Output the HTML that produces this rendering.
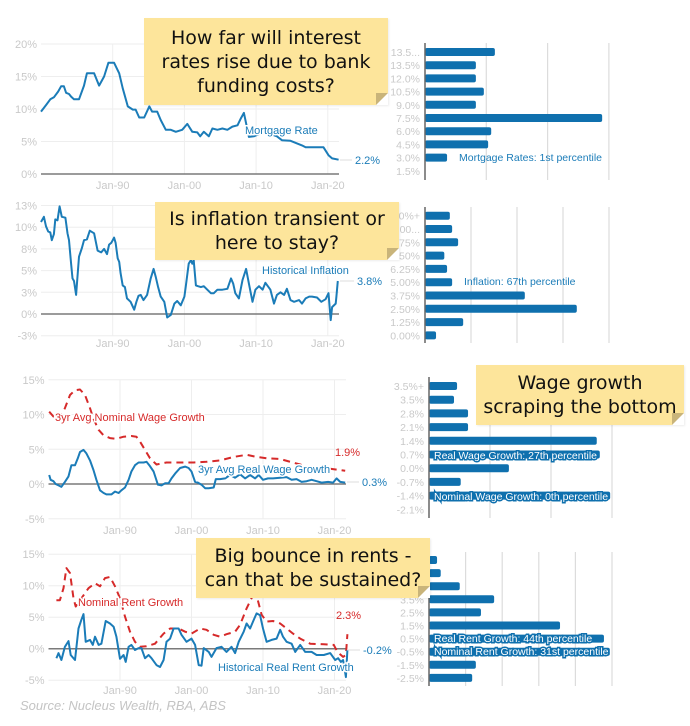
<!DOCTYPE html>
<html><head><meta charset="utf-8">
<style>
html,body{margin:0;padding:0;background:#fff;}
#wrap{position:relative;width:690px;height:726px;overflow:hidden;font-family:"Liberation Sans",sans-serif;}
svg{position:absolute;left:0;top:0;}
.note{position:absolute;background:#fde59b;color:#111;font-family:"Comic Sans MS","DejaVu Sans",cursive;font-size:19px;line-height:24px;text-align:center;box-shadow:1px 1px 2px rgba(0,0,0,0.08);display:flex;flex-direction:column;justify-content:center;}
.note:after{content:"";position:absolute;right:0;bottom:0;width:0;height:0;border-style:solid;border-width:0 0 12px 12px;border-color:transparent transparent #fff #c9b47a;}
</style></head>
<body>
<div id="wrap">
<svg id="chart" width="690" height="726" viewBox="0 0 690 726"></svg>
<div class="note" style="left:144px;top:18px;width:244px;height:87px;">How far will interest<br>rates rise due to bank<br>funding costs?</div>
<div class="note" style="left:155px;top:202px;width:244px;height:58px;">Is inflation transient or<br>here to stay?</div>
<div class="note" style="left:476px;top:365px;width:208px;height:60px;">Wage growth<br>scraping the bottom</div>
<div class="note" style="left:196px;top:538px;width:234px;height:60px;">Big bounce in rents -<br>can that be sustained?</div>
</div>
<script>
// ---- data ----
const mortYears=[1980.0,1980.7,1981.3,1981.8,1982.4,1982.8,1983.2,1983.5,1983.9,1984.2,1984.6,1985.3,1986.0,1986.4,1987.4,1988.1,1988.8,1989.4,1990.2,1990.9,1991.4,1992.1,1992.8,1993.2,1993.7,1994.4,1995.1,1995.5,1996.2,1996.7,1997.4,1998.1,1998.8,1999.7,2000.4,2001.1,2001.8,2002.2,2002.7,2003.4,2003.9,2004.6,2005.3,2006.0,2006.7,2007.4,2007.9,2008.3,2008.6,2009.0,2009.7,2011.1,2012.9,2013.6,2014.8,2015.7,2016.4,2016.9,2019.4,2020.1,2020.6,2021.5];
const mortValues=[9.6,10.6,11.5,11.8,12.7,13.5,13.5,12.5,12.3,11.9,11.5,11.5,13.6,15.5,15.5,13.6,15.0,17.1,17.1,15.5,13.2,10.4,9.9,9.9,8.7,8.7,10.4,9.6,9.6,8.3,6.8,6.8,6.5,6.8,7.7,6.5,6.4,5.8,6.5,5.8,7.0,6.8,7.0,6.8,7.3,7.5,8.6,9.4,7.8,5.7,5.8,6.5,5.8,5.2,5.1,4.7,4.4,4.1,4.1,2.9,2.4,2.2];
const inflYears=[1980.0,1980.4,1980.7,1981.0,1981.3,1981.5,1981.8,1982.0,1982.3,1982.6,1982.9,1983.4,1983.7,1983.9,1984.2,1984.4,1984.6,1984.9,1985.3,1985.7,1986.0,1986.4,1986.8,1987.4,1987.9,1988.4,1988.8,1989.2,1989.5,1989.8,1990.2,1990.4,1990.7,1990.9,1991.1,1991.4,1991.7,1992.0,1992.5,1993.0,1993.3,1993.6,1993.9,1994.3,1994.8,1995.3,1995.7,1996.0,1996.3,1996.7,1997.2,1997.6,1998.1,1998.6,1999.0,1999.5,2000.0,2000.2,2000.6,2000.9,2001.1,2001.3,2001.6,2001.9,2002.3,2002.7,2003.2,2003.7,2004.1,2004.6,2005.3,2006.0,2006.5,2006.8,2007.1,2007.6,2008.1,2008.6,2009.0,2009.5,2009.9,2010.4,2010.9,2011.3,2012.0,2012.5,2012.9,2013.4,2013.9,2014.3,2014.8,2015.3,2016.0,2016.4,2016.9,2017.4,2017.8,2018.5,2019.1,2019.7,2020.1,2020.4,2020.6,2021.1,2021.2,2021.4];
const inflValues=[10.6,11.2,10.1,9.5,9.4,8.5,9.2,10.9,10.8,12.4,11.2,11.1,9.3,8.5,5.8,4.1,3.8,2.2,6.6,7.6,8.5,8.6,9.6,9.3,7.3,7.1,7.5,6.9,8.0,8.2,8.8,8.2,6.4,6.0,4.7,3.3,3.1,1.8,1.4,0.5,1.4,2.1,2.2,1.6,2.2,4.1,5.2,4.3,3.2,2.0,1.4,-0.4,-0.1,1.2,1.5,1.0,2.0,3.2,5.8,6.2,5.8,6.2,3.3,3.2,3.1,3.2,2.8,2.4,2.4,2.8,2.8,2.9,4.1,3.5,2.4,1.8,3.9,5.2,3.5,1.4,2.8,3.2,2.8,3.6,2.8,1.2,2.2,2.5,2.2,2.9,1.6,1.4,1.6,1.2,1.8,2.0,2.0,1.9,1.4,1.7,2.4,-0.7,0.8,1.2,2.0,3.8];
const realWageYears=[1980.1,1980.3,1980.7,1981.0,1981.4,1981.8,1982.3,1982.8,1983.2,1983.7,1984.1,1984.4,1984.9,1985.3,1985.8,1986.3,1986.7,1987.2,1987.7,1988.1,1988.8,1989.3,1989.8,1990.2,1990.7,1991.2,1991.6,1992.1,1992.6,1993.3,1993.7,1994.1,1994.7,1995.3,1995.8,1996.3,1996.8,1997.2,1997.7,1998.4,1999.1,1999.6,2000.0,2000.5,2000.9,2001.4,2001.9,2002.4,2003.1,2003.4,2004.0,2004.7,2005.4,2006.1,2006.8,2007.5,2008.2,2008.9,2009.4,2010.0,2010.7,2011.4,2012.4,2013.3,2014.0,2014.7,2015.4,2016.1,2016.8,2017.5,2018.2,2019.1,2019.8,2020.3,2020.8,2021.5];
const realWageValues=[1.3,0.6,0.4,0,-0.2,-0.4,0.3,1.1,2.7,2.7,3.7,4.6,4.9,4.4,3.4,2.0,0.6,-0.9,-1.3,-1.5,-1.5,-1.1,-1.3,-0.9,-0.5,0.6,1.8,2.7,3.1,3.1,3.2,2.7,1.8,-0.1,-0.2,0.1,0.1,0.8,1.5,2.3,2.5,2.3,1.8,0.3,0.2,-0.1,-0.6,-0.6,-0.5,0.7,0.7,0.8,1.3,0.9,1.4,0.8,1.3,0.8,1.3,0.6,0.8,0.8,0.9,1.0,0.6,0.7,0.3,0.4,0.6,0.4,0.2,0.3,0.2,0.8,0.3,0.2];
const nomWageYears=[1980.1,1980.7,1981.4,1982.3,1983.0,1983.7,1984.4,1985.1,1985.8,1986.3,1987.0,1987.7,1988.6,1989.5,1990.5,1991.6,1992.3,1992.8,1993.5,1994.2,1995.1,1996.5,1998.4,2000.3,2002.1,2004.0,2005.9,2007.7,2009.1,2010.5,2012.4,2013.8,2015.2,2016.6,2018.0,2019.4,2021.5];
const nomWageValues=[10.4,9.7,9.3,10.9,12.8,13.5,13.6,12.8,10.9,9.4,7.8,7.0,6.6,6.5,6.8,6.9,6.8,6.1,4.9,3.7,2.8,3.1,3.1,3.1,3.2,3.4,3.9,4.2,3.9,3.7,3.6,3.2,2.8,2.3,2.0,2.2,1.9];
const realRentYears=[1981.1,1981.4,1981.8,1982.3,1982.8,1983.1,1983.7,1984.2,1984.6,1984.9,1985.2,1985.8,1986.2,1986.5,1987.0,1987.4,1988.0,1988.6,1989.1,1989.5,1990.0,1990.5,1990.8,1991.2,1991.6,1992.1,1992.6,1993.0,1993.5,1994.0,1994.4,1995.1,1995.6,1996.1,1996.5,1997.0,1997.5,1998.2,1998.6,1999.3,2000.0,2000.5,2001.0,2001.4,2001.7,2002.4,2002.8,2003.5,2004.2,2004.9,2005.6,2006.1,2006.6,2007.3,2007.7,2008.2,2008.6,2009.1,2009.6,2010.0,2010.5,2011.2,2011.9,2012.4,2012.8,2013.3,2014.0,2014.5,2015.2,2015.9,2016.8,2017.5,2018.5,2019.4,2020.1,2020.5,2020.9,2021.2,2021.6,2021.8];
const realRentValues=[-1.5,-0.7,-1.8,0.3,1.2,-1.0,-1.8,3.2,4.6,5.5,1.1,1.4,0.6,1.9,0.6,0.8,4.4,4.0,3.5,1.9,-1.6,-1.0,-2.1,0.3,0.6,-0.2,0.1,0.1,-1.5,-1.0,-1.5,-2.6,-2.9,-1.8,1.1,1.6,3.2,3.2,2.2,1.1,1.6,0.6,-2.6,-2.7,0.1,-0.5,-1.3,0.1,0.3,-0.5,0.3,-0.7,1.1,2.7,4.0,3.2,4.3,5.6,5.3,3.2,1.1,1.4,1.6,3.0,1.9,1.1,0.8,-0.5,0.6,-0.5,-0.5,-1.0,-1.0,-0.7,-1.8,-1.5,-2.1,-1.8,-4.5,-0.2];
const nomRentYears=[1981.1,1981.6,1982.1,1982.5,1983.0,1983.5,1983.8,1984.6,1985.6,1986.5,1987.2,1987.9,1988.6,1989.3,1990.0,1990.7,1991.4,1992.1,1992.8,1993.7,1994.9,1996.1,1997.0,1998.2,1999.1,2000.0,2001.2,2002.1,2003.1,2004.0,2004.9,2006.1,2006.8,2007.7,2008.6,2009.2,2009.8,2010.5,2011.4,2012.4,2013.3,2014.2,2015.2,2016.6,2018.5,2019.9,2020.4,2021.2,2021.6,2021.8];
const nomRentValues=[7.7,7.7,9.6,12.8,12.0,8.0,6.7,8.0,9.6,10.4,9.9,11.2,11.4,9.9,8.0,5.1,2.7,1.1,0.3,0.4,0.8,2.4,3.2,3.2,2.7,2.4,3.2,3.0,2.2,1.9,2.3,2.7,3.8,6.4,8.5,8.0,5.4,4.3,4.4,4.0,3.2,2.4,1.6,0.8,0.7,0.6,-0.5,-1.3,-1.0,2.3];
const xTickYears=[1990,2000,2010,2020];
const xTickLabels=["Jan-90","Jan-00","Jan-10","Jan-20"];
const mortTicks=[0,5,10,15,20];
const mortTickLabels=["0%","5%","10%","15%","20%"];
const inflTicks=[-2.5,0,2.5,5,7.5,10,12.5];
const inflTickLabels=["-3%","0%","3%","5%","8%","10%","13%"];
const wageTicks=[-5,0,5,10,15];
const wageTickLabels=["-5%","0%","5%","10%","15%"];
const rentTicks=[-5,0,5,10,15];
const rentTickLabels=["-5%","0%","5%","10%","15%"];
// bar charts
const mortBarCats=["13.5...","13.5%","12.0%","10.5%","9.0%","7.5%","6.0%","4.5%","3.0%","1.5%"];
const mortBarValues=[11.4,8.3,8.3,9.6,8.3,28.9,10.8,10.3,3.6,0];
const inflBarCats=["10.00%+","10.00...","8.75%","7.50%","6.25%","5.00%","3.75%","2.50%","1.25%","0.00%"];
const inflBarValues=[5.4,5.9,7.2,4.2,4.8,5.9,21.7,33.0,8.3,2.4];
const wageBarCats=["3.5%+","3.5%","2.8%","2.1%","1.4%","0.7%","0.0%","-0.7%","-1.4%","-2.1%"];
const wageBarValues=[4.6,4.1,6.4,6.4,27.5,28.0,13.1,5.2,29.7,0];
const rentBarCats=["6.5%+","5.5%","4.5%","3.5%","2.5%","1.5%","0.5%","-0.5%","-1.5%","-2.5%"];
const rentBarValues=[1.1,1.6,4.2,8.9,7.1,17.9,23.9,24.7,6.4,5.9];

// ---- drawing ----
const svg=document.getElementById('chart');
const NS='http://www.w3.org/2000/svg';
const BLUE='#1b7cb8', RED='#d62a2a', BAR='#0f70ae', TICK='#c9c9c9';
function mk(tag,attrs,parent){const e=document.createElementNS(NS,tag);for(const k in attrs)e.setAttribute(k,attrs[k]);(parent||svg).appendChild(e);return e;}
function txt(s,x,y,attrs,parent){const t=mk('text',Object.assign({x:x,y:y,'font-size':11,'font-family':'Liberation Sans, sans-serif'},attrs),parent);t.textContent=s;return t;}

function lineChart(cfg){
  const g=mk('g',{});
  
  
  const xs=y=>cfg.x0+(y-1980)*cfg.pxYear;
  const ys=v=>cfg.zeroY-v*cfg.pxVal;
  cfg.ticks.forEach((t,i)=>{
    const l=mk('line',{x1:cfg.x0,x2:cfg.x1,y1:ys(t),y2:ys(t),stroke:'#eeeeee','stroke-width':1},g);
    
    
    const tl=txt(cfg.tickLabels[i],cfg.x0-4,ys(t)+4,{'text-anchor':'end',fill:TICK,'font-size':11},g);
    
    
  });
  xTickYears.forEach((yr,i)=>{
    const l=mk('line',{x1:xs(yr),x2:xs(yr),y1:ys(cfg.ticks[cfg.ticks.length-1]),y2:ys(cfg.ticks[0]),stroke:'#eeeeee','stroke-width':1},g);
    
    
    const tl=txt(xTickLabels[i],xs(yr),cfg.xLabelY,{'text-anchor':'middle',fill:TICK,'font-size':11},g);
    
    
  });
  const z=mk('line',{x1:cfg.x0,x2:cfg.x1,y1:cfg.zeroY,y2:cfg.zeroY,stroke:'#7a7a7a','stroke-width':1.5},g);
  
  
  cfg.series.forEach(s=>{
    const d=s.years.map((y,i)=>(i?'L':'M')+xs(y).toFixed(1)+','+ys(s.values[i]).toFixed(1)).join('');
    const p=mk('path',{d:d,fill:'none',stroke:s.color,'stroke-width':2,'stroke-linejoin':'round','stroke-dasharray':s.dash||'none'},g);
    
    
  });
  cfg.labels.forEach(lb=>{
    const t=txt(lb.text,lb.x,lb.y,{fill:lb.color,'font-size':11,stroke:'#fff','stroke-width':lb.halo?3:0,'paint-order':'stroke'},g);
    
    
    if(lb.lead){const l=mk('line',{x1:lb.lead[0],x2:lb.lead[1],y1:lb.lead[2],y2:lb.lead[2],stroke:'#dddddd','stroke-width':1},g);
      
      }
  });
}

function barChart(cfg){
  const g=mk('g',{});
  
  
  const xs=v=>cfg.axisX+v*cfg.pxUnit;
  const ys=i=>cfg.y0+i*cfg.step;
  cfg.grid.forEach(v=>{
    const l=mk('line',{x1:xs(v),x2:xs(v),y1:cfg.top,y2:cfg.bottom,stroke:'#dcdcdc','stroke-width':1.2},g);
    
    
  });
  cfg.values.forEach((v,i)=>{
    if(v>0){const r=mk('rect',{x:cfg.axisX,y:ys(i)-4,width:Math.max(0,xs(v)-cfg.axisX),height:8,rx:2,fill:BAR},g);
      
      }
    const t=txt(cfg.cats[i],cfg.axisX-5,ys(i)+4,{'text-anchor':'end',fill:TICK,'font-size':10.5},g);
    
    
  });
  const a=mk('line',{x1:cfg.axisX,x2:cfg.axisX,y1:cfg.top,y2:cfg.bottom,stroke:'#666','stroke-width':1.5},g);
  
  
  cfg.labels.forEach(lb=>{
    const t=txt(lb.text,lb.x,lb.y,lb.outline?{fill:'#fff',stroke:BAR,'stroke-width':3,'paint-order':'stroke','font-size':10.5}:{fill:BLUE,'font-size':10.5},g);
    
    
  });
}

lineChart({name:'mortgage-rate-chart',x0:41,x1:339,pxYear:7.17,zeroY:174,pxVal:6.5,xLabelY:189,ticks:mortTicks,tickLabels:mortTickLabels,
  series:[{name:'mortgage-rate-line',years:mortYears,values:mortValues,color:BLUE}],
  labels:[{text:'Mortgage Rate',x:245,y:134,color:BLUE,halo:true,name:'mortgage-rate-label'},{text:'2.2%',x:355,y:164,color:BLUE,name:'mortgage-end-value',lead:[340,352,160]}]});
lineChart({name:'inflation-chart',x0:41,x1:339,pxYear:7.17,zeroY:314,pxVal:8.68,xLabelY:347,ticks:inflTicks,tickLabels:inflTickLabels,
  series:[{name:'inflation-line',years:inflYears,values:inflValues,color:BLUE}],
  labels:[{text:'Historical Inflation',x:262,y:274,color:BLUE,halo:true,name:'inflation-label'},{text:'3.8%',x:357,y:285,color:BLUE,name:'inflation-end-value',lead:[340,354,281]}]});
lineChart({name:'wage-growth-chart',x0:48.5,x1:346,pxYear:7.15,zeroY:484,pxVal:6.95,xLabelY:534,ticks:wageTicks,tickLabels:wageTickLabels,
  series:[{name:'nominal-wage-line',years:nomWageYears,values:nomWageValues,color:RED,dash:'7,5'},{name:'real-wage-line',years:realWageYears,values:realWageValues,color:BLUE}],
  labels:[{text:'3yr Avg Nominal Wage Growth',x:55,y:421,color:RED,halo:true,name:'nominal-wage-label'},{text:'1.9%',x:335,y:456,color:RED,name:'nominal-wage-end-value'},
          {text:'3yr Avg Real Wage Growth',x:198,y:473,color:BLUE,halo:true,name:'real-wage-label'},{text:'0.3%',x:362,y:486,color:BLUE,name:'real-wage-end-value',lead:[347,359,482]}]});
lineChart({name:'rent-growth-chart',x0:48.5,x1:346,pxYear:7.15,zeroY:648.7,pxVal:6.3,xLabelY:694,ticks:rentTicks,tickLabels:rentTickLabels,
  series:[{name:'nominal-rent-line',years:nomRentYears,values:nomRentValues,color:RED,dash:'7,5'},{name:'real-rent-line',years:realRentYears,values:realRentValues,color:BLUE}],
  labels:[{text:'Nominal Rent Growth',x:78,y:606,color:RED,halo:true,name:'nominal-rent-label'},{text:'2.3%',x:336,y:619,color:RED,name:'nominal-rent-end-value'},
          {text:'Historical Real Rent Growth',x:218,y:671,color:BLUE,halo:true,name:'real-rent-label'},{text:'-0.2%',x:363,y:654,color:BLUE,name:'real-rent-end-value',lead:[347,360,650]}]});

barChart({name:'mortgage-distribution',axisX:425,pxUnit:6.13,grid:[10,20,30],top:43,bottom:180,y0:52,step:13.2,cats:mortBarCats,values:mortBarValues,
  labels:[{text:'Mortgage Rates: 1st percentile',x:459,y:161,name:'mortgage-percentile-label'}]});
barChart({name:'inflation-distribution',axisX:425,pxUnit:4.6,grid:[10,20,30,40],top:207,bottom:343,y0:215.7,step:13.3,cats:inflBarCats,values:inflBarValues,
  labels:[{text:'Inflation: 67th percentile',x:464,y:285,name:'inflation-percentile-label'}]});
barChart({name:'wage-distribution',axisX:429,pxUnit:6.1,grid:[10,20,30],top:377,bottom:518,y0:386,step:13.7,cats:wageBarCats,values:wageBarValues,
  labels:[{text:'Real Wage Growth: 27th percentile',x:434,y:459,outline:true,name:'real-wage-percentile-label'},{text:'Nominal Wage Growth: 0th percentile',x:434,y:500,outline:true,name:'nominal-wage-percentile-label'}]});
barChart({name:'rent-distribution',axisX:429,pxUnit:7.32,grid:[5,10,15,20,25],top:552,bottom:686,y0:560,step:13.1,cats:rentBarCats,values:rentBarValues,
  labels:[{text:'Real Rent Growth: 44th percentile',x:434,y:642,outline:true,name:'real-rent-percentile-label'},{text:'Nominal Rent Growth: 31st percentile',x:434,y:655,outline:true,name:'nominal-rent-percentile-label'}]});

const src=txt('Source: Nucleus Wealth, RBA, ABS',20,710,{fill:'#c4c4c4','font-size':13,'font-style':'italic'});


</script>
</body></html>
